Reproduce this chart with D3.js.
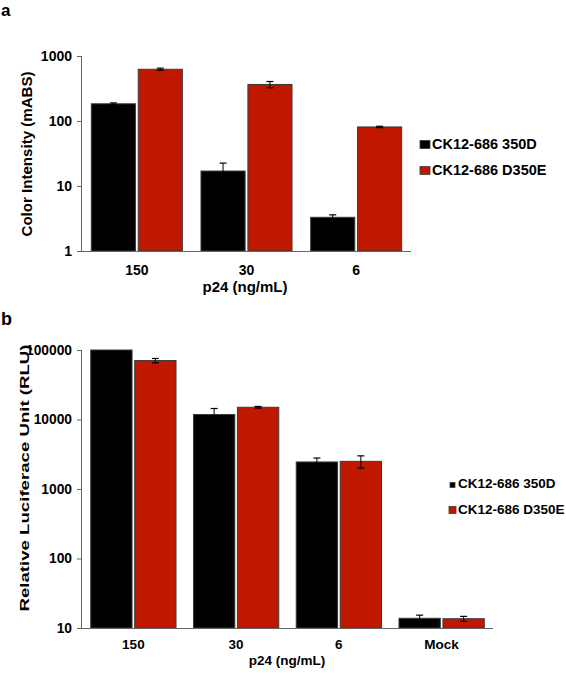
<!DOCTYPE html>
<html><head><meta charset="utf-8">
<script src="https://cdn.jsdelivr.net/npm/d3@7"></script>
<style>body{margin:0;background:#fff}svg{display:block;font-family:"Liberation Sans",Arial,sans-serif;font-weight:bold}</style>
</head><body><svg id="c" width="566" height="673"></svg>
<script>
// Panel a
const catsA = ["150","30","6"];
const seriesNames = ["CK12-686 350D","CK12-686 D350E"];
const a350D = [184, 17, 3.3];
const a350Derr = [6, 5.5, 0.3];
const aD350E = [625, 365, 81];
const aD350Eerr = [25, 40, 2];
const ticksA = [1,10,100,1000];
// Panel b
const catsB = ["150","30","6","Mock"];
const b350D = [100000, 11800, 2450, 13.8];
const b350Derr = [0, 2600, 340, 1.5];
const bD350E = [70500, 15000, 2500, 13.6];
const bD350Eerr = [5000, 400, 500, 1.1];
const ticksB = [10,100,1000,10000,100000];
const colors = ["#000000","#c01800"];

const svg = d3.select("#c");

function panel(o){
  const g = svg.append("g");
  const x = d3.scaleBand().domain(o.cats).range([o.x0,o.x1]).paddingInner(0.17).paddingOuter(0.085);
  const x2 = d3.scaleBand().domain([0,1]).range([0,x.bandwidth()]).paddingInner(0.06);
  const y = d3.scaleLog().domain(o.domain).range([o.yb,o.yt]);
  o.vals.forEach((vals,si)=>{
    g.selectAll(null).data(o.cats).enter().append("rect")
      .attr("x",d=>x(d)+x2(si)).attr("width",x2.bandwidth())
      .attr("y",(d,i)=>y(vals[i])).attr("height",(d,i)=>o.yb-y(vals[i]))
      .attr("fill",colors[si]).attr("stroke","#3a3a3a").attr("stroke-width",1);
    o.cats.forEach((d,i)=>{
      const e = o.errs[si][i];
      if(!(e>0)) return;
      const cx = x(d)+x2(si)+x2.bandwidth()/2;
      const hi = y(vals[i]+e), lo = y(Math.max(vals[i]-e, o.domain[0]));
      const s = g.append("g");
      s.append("line").attr("x1",cx).attr("x2",cx).attr("y1",hi).attr("y2",lo).attr("stroke","#000").attr("stroke-width",1);
      [hi,lo].forEach(yy=>s.append("line").attr("x1",cx-3.5).attr("x2",cx+3.5).attr("y1",yy).attr("y2",yy).attr("stroke","#000").attr("stroke-width",1.2));
    });
  });
  const ya = g.append("g").attr("transform",`translate(${o.x0},0)`)
    .call(d3.axisLeft(y).tickValues(o.ticks).tickFormat(d3.format("d")).tickSize(5).tickPadding(5));
  ya.select(".domain").attr("stroke","#666").attr("d",`M-0.5,${o.yb}V${o.yt}`);
  ya.selectAll(".tick line").attr("stroke","#666");
  ya.selectAll("text").attr("font-size",o.tfs).attr("font-weight","bold").attr("fill","#000").attr("font-family","Liberation Sans, Arial");
  g.append("line").attr("x1",o.x0-5).attr("x2",o.x1).attr("y1",o.yb+0.5).attr("y2",o.yb+0.5).attr("stroke","#666").attr("stroke-width",1.2);
  g.selectAll(null).data(o.cats).enter().append("text")
    .attr("x",d=>x(d)+x.bandwidth()/2).attr("y",o.yb+o.xlabDy).attr("text-anchor","middle")
    .attr("font-size",o.fs).text(d=>d);
  g.append("text").attr("x",o.xtitleX).attr("y",o.yb+o.xtitleDy).attr("text-anchor","middle").attr("font-size",o.xtfs).text("p24 (ng/mL)");
  g.append("text").attr("transform",`translate(${o.ytitleX},${o.ytitleY}) rotate(-90)`).attr("text-anchor","middle")
    .attr("font-size",o.yfs).attr("textLength",o.ytLen).attr("lengthAdjust","spacingAndGlyphs").text(o.ytitle);
  const big = o.sq[1][0];
  seriesNames.forEach((n,i)=>{
    const ly = o.legY + i*o.legGap;
    const sq = o.sq[i];
    g.append("rect").attr("x",o.legX + (big-sq[0])/2).attr("y",ly-sq[1]-0.5).attr("width",sq[0]).attr("height",sq[1])
      .attr("fill",colors[i]).attr("stroke","#3a3a3a").attr("stroke-width",0.8);
    g.append("text").attr("x",o.legX+big+o.legPad).attr("y",ly).attr("font-size",o.lfs).text(n);
  });
  g.append("text").attr("x",o.labX).attr("y",o.labY).attr("font-size",o.labFs).text(o.lab);
}

panel({cats:catsA, x0:82, x1:411, yb:251, yt:56, domain:[1,1000], ticks:ticksA,
  vals:[a350D,aD350E], errs:[a350Derr,aD350Eerr], fs:14, tfs:14, yfs:14, xtfs:15,
  xlabDy:24, xtitleDy:41, xtitleX:245, ytitleX:32, ytitleY:154, ytLen:165, ytitle:"Color Intensity  (mABS)",
  legX:420, legY:149, legGap:26, sq:[[10,8],[10,8]], legPad:2, lfs:14.5, lab:"a", labX:1, labY:15.5, labFs:17});

panel({cats:catsB, x0:82, x1:493, yb:628, yt:350, domain:[10,100000], ticks:ticksB,
  vals:[b350D,bD350E], errs:[b350Derr,bD350Eerr], fs:13.5, tfs:13.8, yfs:13, xtfs:13.5,
  xlabDy:21, xtitleDy:37, xtitleX:287, ytitleX:29, ytitleY:478, ytLen:267, ytitle:"Relative Luciferace Unit (RLU)",
  legX:449, legY:488, legGap:26, sq:[[5,5],[7,7]], legPad:2, lfs:13.5, lab:"b", labX:1, labY:325, labFs:18});
</script></body></html>
